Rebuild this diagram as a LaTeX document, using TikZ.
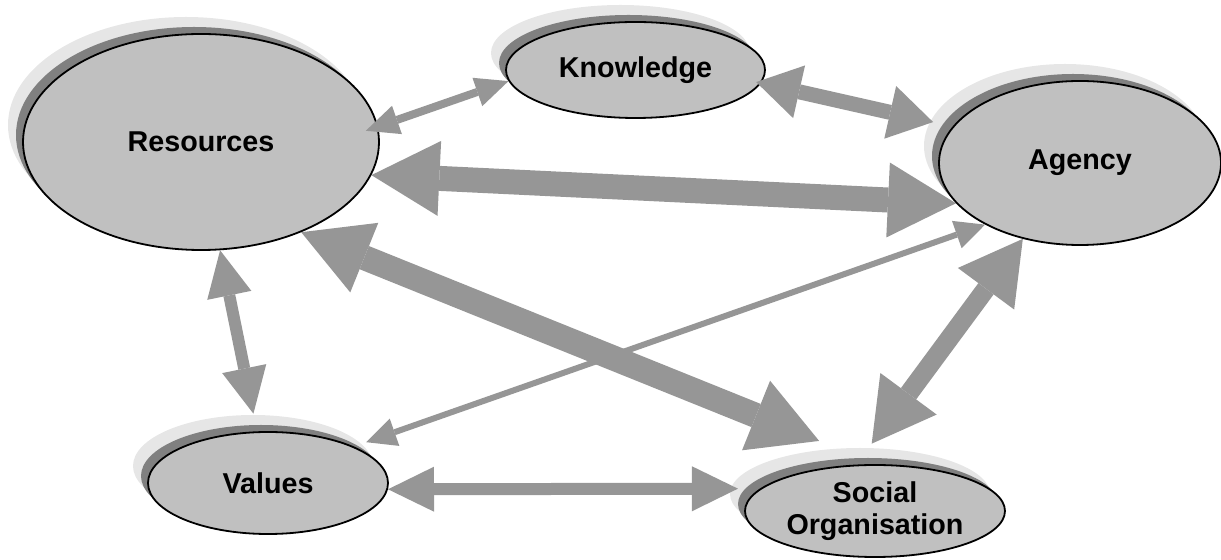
\documentclass[tikz,border=0pt]{standalone}
\usepackage{fontspec}
\setmainfont{Liberation Sans}
\usetikzlibrary{shapes.geometric,shadows,arrows.meta}
\definecolor{ellgrey}{HTML}{C0C0C0}
\definecolor{shadowdark}{HTML}{808080}
\definecolor{shadowlight}{HTML}{E6E6E6}
\definecolor{arrowgrey}{HTML}{969696}
\begin{document}
\begin{tikzpicture}[x=0.5pt,y=-0.5pt]
\tikzstyle{blob}=[ellipse,draw=black,fill=ellgrey,line width=0.9pt,inner sep=0pt,align=center,
  font=\fontsize{14.35}{16}\selectfont\bfseries,
  drop shadow={shadow xshift=-7.5pt,shadow yshift=8.5pt,fill=shadowlight,opacity=1},
  drop shadow={shadow xshift=-3.5pt,shadow yshift=3.5pt,fill=shadowdark,opacity=1}]
\tikzstyle{arrow}=[<->,draw=arrowgrey]
\tikzstyle{hairarrow}=[arrow,line width=3pt,>={Triangle[length=15pt,width=14.5pt,line width=0pt]}]
\tikzstyle{narrowarrow}=[arrow,line width=4pt,>={Triangle[length=16.5pt,width=15pt,line width=0pt]}]
\tikzstyle{slimarrow}=[arrow,line width=6pt,>={Triangle[length=23pt,width=22.5pt,line width=0pt]}]
\tikzstyle{midarrow}=[arrow,line width=7.5pt,>={Triangle[length=22pt,width=27pt,line width=0pt]}]
\tikzstyle{boldarrow}=[arrow,line width=9.5pt,>={Triangle[length=31pt,width=35pt,line width=0pt]}]
\tikzstyle{widearrow}=[arrow,line width=12.5pt,>={Triangle[length=34pt,width=37.5pt,line width=0pt]}]

\useasboundingbox (0,0) rectangle (1221,560);

\node [blob,minimum width=178pt,minimum height=108pt] at (201,142) (res) {Resources};
\node [blob,minimum width=129.5pt,minimum height=48pt] at (635.5,70) (kno) {Knowledge};
\node [blob,minimum width=141pt,minimum height=82pt] at (1080,163) (agy) {Agency};
\node [blob,minimum width=120pt,minimum height=51pt] at (268,483) (val) {Values};
\node [blob,minimum width=130pt,minimum height=46pt] at (875,511) (soc) {Social\\Organisation};

\draw [narrowarrow,shorten <=-6.5pt] (res.5.2) -- (kno.185.4);
\draw [midarrow,shorten <=-2.5pt,shorten >=10pt] (kno.-6.5) -- (agy.164.5);
\draw [widearrow] (res.-11.2) -- (agy.198.9);
\draw [widearrow,shorten >=31pt] (res.-42.6) -- (soc.88);
\draw [slimarrow,shorten >=9pt] (res.-80.5) -- (val.102.9);
\draw [hairarrow,shorten <=6.5pt] (val.23.7) -- (agy.213.1);
\draw [boldarrow,shorten >=13pt] (agy.233) -- (soc.112.4);
\draw [slimarrow,shorten >=11pt] (val.-3.3) -- (soc.169.7);
\end{tikzpicture}
\end{document}
